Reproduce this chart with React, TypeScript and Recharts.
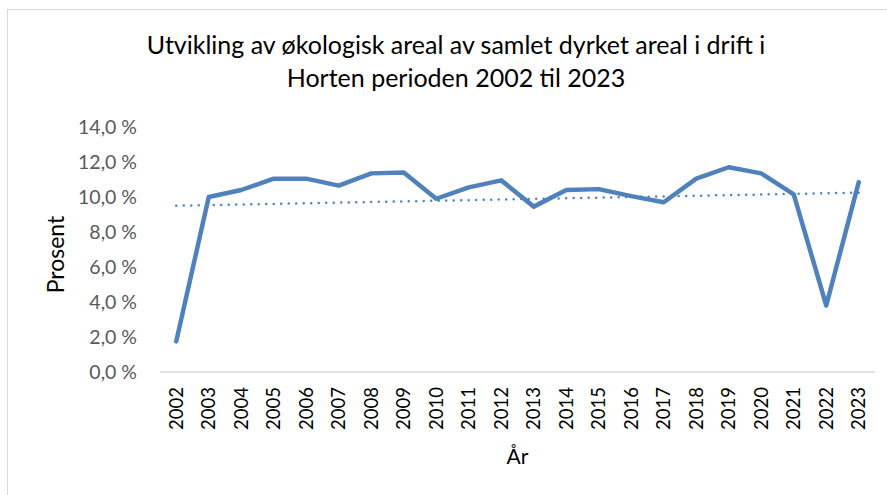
import React from 'react';
import { LineChart, Line, XAxis, YAxis } from 'recharts';

const years = ['2002', '2003', '2004', '2005', '2006', '2007', '2008', '2009', '2010', '2011', '2012',
    '2013', '2014', '2015', '2016', '2017', '2018', '2019', '2020', '2021', '2022', '2023'];
const shares = [1.75, 10.0, 10.4, 11.05, 11.05, 10.65, 11.35, 11.4, 9.9, 10.55, 10.95,
    9.45, 10.4, 10.45, 10.05, 9.7, 11.05, 11.7, 11.35, 10.15, 3.8, 10.85];
// linear trendline, read at its two ends
const trendStart = 9.5;
const trendEnd = 10.25;
const yTicks = [0, 2, 4, 6, 8, 10, 12, 14];

const titleLines = ['Utvikling av økologisk areal av samlet dyrket areal i drift i', 'Horten perioden 2002 til 2023'];

const rows = years.map((year, i) => ({
    year,
    share: shares[i],
    trend: i === 0 ? trendStart : i === years.length - 1 ? trendEnd : null,
}));

const BLUE = '#4f81bd';
const FONT = 'Lato, "Liberation Sans", sans-serif';

const pct = (v: number) => `${v.toFixed(1).replace('.', ',')} %`;

const YearTick = ({ x, y, payload }: any) => {
    const ty = y + 7;
    return (
        <text
            x={x}
            y={ty}
            transform={`rotate(-90, ${x}, ${ty})`}
            textAnchor="end"
            dy="0.35em"
            fill="#000"
            fontSize={18.5}
            fontFamily={FONT}
        >
            {payload.value}
        </text>
    );
};

export default function App() {
    return (
        <div style={{ position: 'absolute', left: 0, top: 0, width: 887, height: 495, background: '#fff', overflow: 'hidden', fontFamily: FONT }}>
            <div style={{ position: 'absolute', left: 7, top: 9, width: 900, height: 500, borderLeft: '1.5px solid #d9d9d9', borderTop: '1.5px solid #d9d9d9' }} />
            <div style={{ position: 'absolute', left: 0, top: 28, width: 912, textAlign: 'center', fontSize: 25, lineHeight: '32.5px', color: '#000' }}>
                {titleLines.map((t) => <div key={t}>{t}</div>)}
            </div>
            <div style={{ position: 'absolute', left: 0, top: 0 }}>
                <LineChart width={887} height={495} data={rows} margin={{ top: 127, right: 12, bottom: 23, left: 0 }}>
                    <XAxis
                        dataKey="year"
                        scale="band"
                        axisLine={{ stroke: '#d9d9d9', strokeWidth: 1.5 }}
                        tickLine={false}
                        interval={0}
                        height={100}
                        tick={<YearTick />}
                        label={{ value: 'År', position: 'insideBottom', offset: 8, fill: '#000', fontSize: 21, fontFamily: FONT }}
                    />
                    <YAxis
                        width={160}
                        domain={[0, 14]}
                        ticks={yTicks}
                        tickFormatter={pct}
                        axisLine={false}
                        tickLine={false}
                        tickMargin={17}
                        tick={{ fill: '#595959', fontSize: 19.5, fontFamily: FONT }}
                        label={{ value: 'Prosent', angle: -90, position: 'insideLeft', offset: 56, dy: 5, fill: '#000', fontSize: 23, fontFamily: FONT, style: { textAnchor: 'middle' } }}
                    />
                    <Line
                        dataKey="trend"
                        stroke={BLUE}
                        strokeWidth={2.5}
                        strokeDasharray="0 7.5"
                        strokeLinecap="round"
                        connectNulls
                        dot={false}
                        activeDot={false}
                        isAnimationActive={false}
                    />
                    <Line
                        dataKey="share"
                        stroke={BLUE}
                        strokeWidth={4.5}
                        strokeLinecap="round"
                        strokeLinejoin="round"
                        dot={false}
                        activeDot={false}
                        isAnimationActive={false}
                    />
                </LineChart>
            </div>
        </div>
    );
}
